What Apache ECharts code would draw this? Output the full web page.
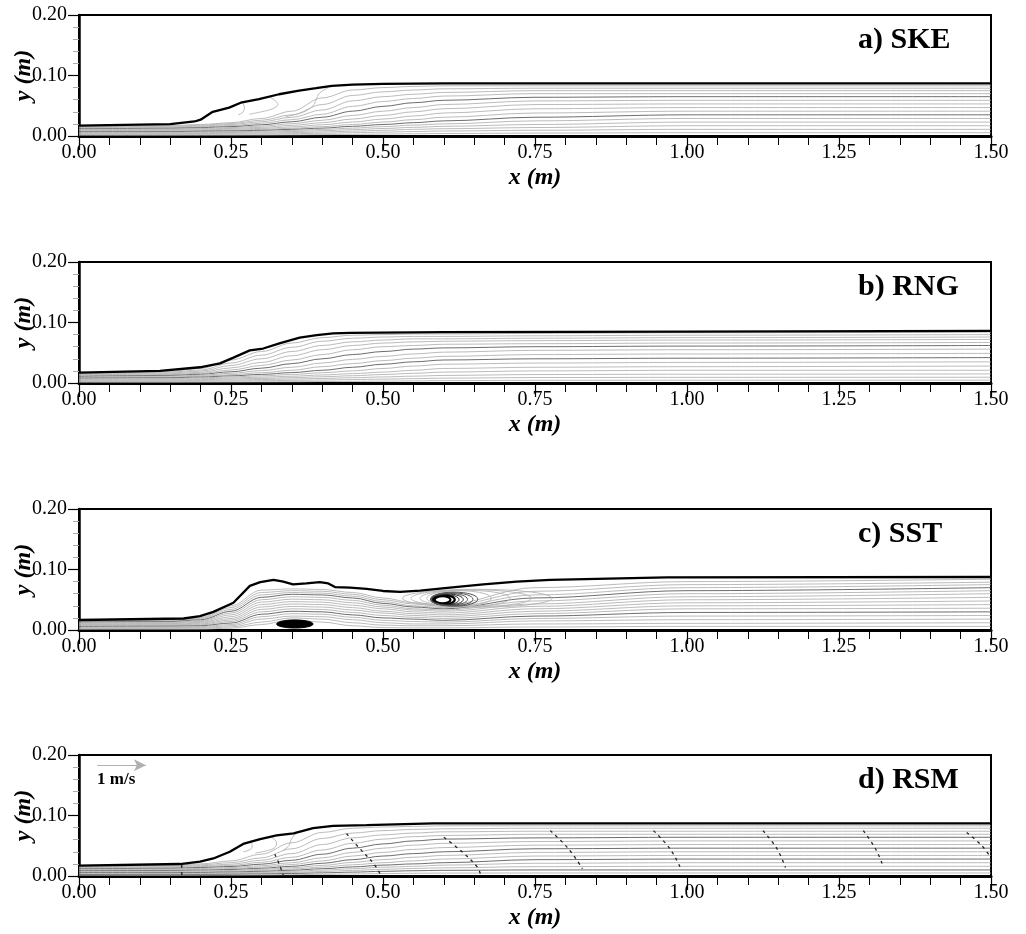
<!DOCTYPE html>
<html>
<head>
<meta charset="utf-8">
<script src="https://cdn.jsdelivr.net/npm/echarts@6/dist/echarts.min.js"></script>
<style>
  html, body { margin: 0; padding: 0; background: #fff; }
  #chart { width: 1026px; height: 934px; }
</style>
</head>
<body>
<div id="chart"></div>
<script>
// ---- Panel titles and tick labels ----
const panelTitles = ['a) SKE', 'b) RNG', 'c) SST', 'd) RSM'];
const xTicks = [0, 0.25, 0.5, 0.75, 1.0, 1.25, 1.5];
const yTicks = [0, 0.1, 0.2];

// ---- Streamline stations (x, m); each profile row gives y (m) of every streamline at one station ----
const stationX = [0, 0.15, 0.2, 0.25, 0.3, 0.35, 0.4, 0.45, 0.5, 0.55, 0.6, 0.75, 1.0, 1.5];

// ---- a) SKE ----
const skeSurfX = [0, 0.15, 0.19, 0.20, 0.22, 0.247, 0.266, 0.296, 0.329, 0.362, 0.39, 0.416, 0.45, 0.5, 0.6, 0.8, 1.0, 1.25, 1.5];
const skeSurfY = [0.017, 0.0195, 0.024, 0.027, 0.040, 0.047, 0.055, 0.061, 0.069, 0.075, 0.079, 0.083, 0.085, 0.086, 0.087, 0.087, 0.087, 0.087, 0.087];
const skeProfiles = [
  [0.0158, 0.0148, 0.0138, 0.0128, 0.0118, 0.0108, 0.0098, 0.0088, 0.0078, 0.0068, 0.0058, 0.0047, 0.0036, 0.0025, 0.0013],
  [0.0172, 0.016, 0.0149, 0.0138, 0.0127, 0.0116, 0.0105, 0.0094, 0.0083, 0.0072, 0.0061, 0.005, 0.0038, 0.0026, 0.0013],
  [0.019, 0.0177, 0.0164, 0.0151, 0.0138, 0.0126, 0.0114, 0.0102, 0.009, 0.0078, 0.0066, 0.0054, 0.0041, 0.0028, 0.0014],
  [0.022, 0.0205, 0.019, 0.0172, 0.0155, 0.0139, 0.0125, 0.0111, 0.0097, 0.0084, 0.0071, 0.0058, 0.0044, 0.003, 0.0015],
  [0.029, 0.026, 0.0235, 0.021, 0.0185, 0.0163, 0.0143, 0.0125, 0.0108, 0.0093, 0.0078, 0.0063, 0.0048, 0.0033, 0.0017],
  [0.041, 0.035, 0.031, 0.027, 0.0235, 0.0203, 0.0175, 0.015, 0.0128, 0.011, 0.0092, 0.0074, 0.0056, 0.0038, 0.002],
  [0.063, 0.052, 0.043, 0.036, 0.031, 0.026, 0.022, 0.0185, 0.0155, 0.013, 0.0108, 0.0087, 0.0066, 0.0045, 0.0023],
  [0.076, 0.067, 0.058, 0.049, 0.041, 0.034, 0.028, 0.023, 0.019, 0.016, 0.013, 0.0105, 0.008, 0.0054, 0.0027],
  [0.080, 0.073, 0.065, 0.057, 0.049, 0.041, 0.034, 0.028, 0.023, 0.019, 0.0155, 0.0124, 0.0094, 0.0064, 0.0032],
  [0.082, 0.076, 0.069, 0.062, 0.055, 0.047, 0.040, 0.033, 0.027, 0.022, 0.018, 0.0143, 0.011, 0.0074, 0.0037],
  [0.083, 0.078, 0.072, 0.066, 0.059, 0.052, 0.045, 0.038, 0.031, 0.025, 0.020, 0.016, 0.012, 0.0082, 0.0041],
  [0.083, 0.079, 0.075, 0.070, 0.064, 0.058, 0.052, 0.045, 0.038, 0.031, 0.025, 0.019, 0.014, 0.0095, 0.0048],
  [0.083, 0.079, 0.075, 0.070, 0.065, 0.059, 0.053, 0.047, 0.041, 0.035, 0.029, 0.023, 0.017, 0.011, 0.0055],
  [0.083, 0.079, 0.075, 0.070, 0.065, 0.059, 0.053, 0.047, 0.041, 0.035, 0.029, 0.023, 0.017, 0.011, 0.0055]
];
const skeDark = [4, 9];
const skeRoller = [
  [[0.268, 0.056], [0.272, 0.048], [0.270, 0.040], [0.262, 0.035]],
  [[0.312, 0.065], [0.322, 0.059], [0.327, 0.052], [0.318, 0.045], [0.300, 0.040], [0.280, 0.036]],
  [[0.410, 0.080], [0.395, 0.070], [0.390, 0.060], [0.385, 0.050], [0.370, 0.040], [0.340, 0.032]]
];

// ---- b) RNG ----
const rngSurfX = [0, 0.133, 0.199, 0.232, 0.254, 0.281, 0.303, 0.331, 0.363, 0.391, 0.418, 0.446, 0.6, 1.0, 1.5];
const rngSurfY = [0.017, 0.020, 0.026, 0.0325, 0.042, 0.054, 0.057, 0.066, 0.075, 0.079, 0.082, 0.083, 0.084, 0.085, 0.086];
const rngProfiles = [
  [0.0158, 0.0148, 0.0138, 0.0128, 0.0118, 0.0108, 0.0098, 0.0088, 0.0078, 0.0068, 0.0058, 0.0047, 0.0036, 0.0025, 0.0013],
  [0.0195, 0.0181, 0.0167, 0.0153, 0.0139, 0.0125, 0.0112, 0.0099, 0.0086, 0.0074, 0.0062, 0.005, 0.0038, 0.0026, 0.0013],
  [0.024, 0.0215, 0.0195, 0.0177, 0.016, 0.0144, 0.0128, 0.0113, 0.0098, 0.0084, 0.007, 0.0056, 0.0043, 0.0029, 0.0015],
  [0.038, 0.033, 0.029, 0.025, 0.0215, 0.0185, 0.016, 0.0138, 0.0118, 0.010, 0.0083, 0.0066, 0.005, 0.0034, 0.0017],
  [0.052, 0.046, 0.040, 0.034, 0.029, 0.0245, 0.0205, 0.017, 0.0142, 0.0118, 0.0096, 0.0076, 0.0057, 0.0038, 0.0019],
  [0.066, 0.059, 0.052, 0.045, 0.038, 0.032, 0.026, 0.021, 0.0172, 0.014, 0.0112, 0.0088, 0.0065, 0.0043, 0.0021],
  [0.075, 0.069, 0.062, 0.055, 0.047, 0.040, 0.033, 0.027, 0.021, 0.017, 0.0133, 0.0103, 0.0075, 0.0049, 0.0024],
  [0.079, 0.074, 0.068, 0.062, 0.055, 0.047, 0.039, 0.032, 0.026, 0.020, 0.0155, 0.012, 0.0087, 0.0056, 0.0027],
  [0.080, 0.076, 0.071, 0.066, 0.060, 0.052, 0.044, 0.037, 0.031, 0.024, 0.018, 0.014, 0.0100, 0.0064, 0.0031],
  [0.081, 0.077, 0.073, 0.068, 0.062, 0.056, 0.048, 0.041, 0.035, 0.028, 0.021, 0.016, 0.0113, 0.0072, 0.0035],
  [0.081, 0.077, 0.073, 0.069, 0.064, 0.058, 0.051, 0.044, 0.038, 0.031, 0.024, 0.018, 0.0125, 0.008, 0.0039],
  [0.082, 0.078, 0.074, 0.070, 0.065, 0.060, 0.054, 0.047, 0.040, 0.033, 0.026, 0.020, 0.014, 0.009, 0.0044],
  [0.083, 0.079, 0.075, 0.071, 0.066, 0.061, 0.055, 0.048, 0.041, 0.034, 0.027, 0.021, 0.0145, 0.0093, 0.0046],
  [0.084, 0.080, 0.076, 0.072, 0.067, 0.062, 0.056, 0.049, 0.042, 0.035, 0.028, 0.021, 0.015, 0.0095, 0.0047]
];
const rngDark = [5, 8];

// ---- c) SST ----
const sstSurfX = [0, 0.172, 0.199, 0.221, 0.254, 0.281, 0.298, 0.320, 0.336, 0.352, 0.374, 0.396, 0.410, 0.421, 0.446, 0.473, 0.500, 0.528, 0.561, 0.610, 0.665, 0.720, 0.775, 0.967, 1.5];
const sstSurfY = [0.0165, 0.019, 0.023, 0.030, 0.045, 0.073, 0.079, 0.083, 0.080, 0.0755, 0.077, 0.079, 0.077, 0.071, 0.070, 0.068, 0.0645, 0.063, 0.065, 0.070, 0.0755, 0.080, 0.083, 0.087, 0.0876];
const sstProfiles = [
  [0.0158, 0.0148, 0.0138, 0.0128, 0.0118, 0.0108, 0.0098, 0.0088, 0.0078, 0.0068, 0.0058, 0.0047, 0.0036, 0.0025, 0.0013],
  [0.0172, 0.016, 0.015, 0.0139, 0.0128, 0.0117, 0.0106, 0.0095, 0.0084, 0.0073, 0.0062, 0.005, 0.0038, 0.0026, 0.0014],
  [0.021, 0.0196, 0.0182, 0.0168, 0.0154, 0.014, 0.0126, 0.0112, 0.0098, 0.0084, 0.007, 0.0057, 0.0044, 0.003, 0.0016],
  [0.040, 0.037, 0.034, 0.031, 0.028, 0.025, 0.022, 0.019, 0.0165, 0.014, 0.0115, 0.009, 0.007, 0.005, 0.003],
  [0.066, 0.062, 0.058, 0.054, 0.050, 0.046, 0.042, 0.038, 0.034, 0.030, 0.026, 0.022, 0.018, 0.013, 0.009],
  [0.068, 0.065, 0.062, 0.059, 0.055, 0.051, 0.047, 0.043, 0.039, 0.035, 0.031, 0.027, 0.023, 0.020, 0.017],
  [0.067, 0.064, 0.061, 0.058, 0.054, 0.050, 0.046, 0.042, 0.038, 0.034, 0.030, 0.026, 0.022, 0.018, 0.013],
  [0.062, 0.059, 0.056, 0.053, 0.049, 0.045, 0.041, 0.037, 0.033, 0.029, 0.025, 0.021, 0.017, 0.012, 0.007],
  [0.053, 0.050, 0.047, 0.044, 0.041, 0.038, 0.035, 0.031, 0.028, 0.024, 0.020, 0.016, 0.012, 0.008, 0.004],
  [0.045, 0.043, 0.040, 0.038, 0.035, 0.033, 0.030, 0.027, 0.024, 0.021, 0.018, 0.014, 0.010, 0.007, 0.0035],
  [0.041, 0.039, 0.037, 0.035, 0.033, 0.031, 0.028, 0.025, 0.022, 0.019, 0.016, 0.013, 0.010, 0.007, 0.0035],
  [0.070, 0.064, 0.058, 0.053, 0.048, 0.043, 0.039, 0.035, 0.031, 0.027, 0.023, 0.019, 0.015, 0.010, 0.005],
  [0.080, 0.075, 0.070, 0.065, 0.060, 0.055, 0.050, 0.045, 0.040, 0.035, 0.029, 0.023, 0.017, 0.011, 0.006],
  [0.084, 0.079, 0.075, 0.070, 0.065, 0.060, 0.054, 0.048, 0.042, 0.036, 0.030, 0.024, 0.018, 0.012, 0.006]
];
const sstDark = [3, 10];
// eddies: [centre x, centre y, half-width, half-height] in metres
const sstFloorEddy = [[0.355, 0.0099, 0.030, 0.0066]];
const sstCoreRings = [
  [0.598, 0.0500, 0.013, 0.0058],
  [0.600, 0.0500, 0.018, 0.0074],
  [0.603, 0.0502, 0.022, 0.0083],
  [0.606, 0.0504, 0.026, 0.0091],
  [0.609, 0.0506, 0.030, 0.0099],
  [0.613, 0.0508, 0.035, 0.0107],
  [0.617, 0.0510, 0.039, 0.0116]
];
const sstOuterLoops = [
  [0.625, 0.0525, 0.053, 0.0124],
  [0.635, 0.0525, 0.074, 0.0132],
  [0.645, 0.0525, 0.099, 0.0140],
  [0.655, 0.0525, 0.123, 0.0148]
];

// ---- d) RSM ----
const rsmSurfX = [0, 0.166, 0.199, 0.221, 0.248, 0.27, 0.298, 0.325, 0.353, 0.385, 0.418, 0.473, 0.583, 1.0, 1.5];
const rsmSurfY = [0.017, 0.0198, 0.0237, 0.029, 0.040, 0.053, 0.061, 0.067, 0.0705, 0.079, 0.083, 0.084, 0.087, 0.087, 0.087];
const rsmProfiles = [
  [0.0158, 0.0148, 0.0138, 0.0128, 0.0118, 0.0108, 0.0098, 0.0088, 0.0078, 0.0068, 0.0058, 0.0047, 0.0036, 0.0025, 0.0013],
  [0.0175, 0.0163, 0.0151, 0.0139, 0.0127, 0.0115, 0.0103, 0.0091, 0.0079, 0.0067, 0.0055, 0.0044, 0.0033, 0.0022, 0.0012],
  [0.020, 0.0185, 0.017, 0.0155, 0.014, 0.0125, 0.011, 0.0096, 0.0083, 0.007, 0.0058, 0.0046, 0.0035, 0.0024, 0.0013],
  [0.025, 0.022, 0.0195, 0.0175, 0.0157, 0.014, 0.0123, 0.0107, 0.0092, 0.0078, 0.0065, 0.0052, 0.004, 0.0028, 0.0015],
  [0.036, 0.030, 0.026, 0.0225, 0.0195, 0.017, 0.0148, 0.0128, 0.011, 0.0093, 0.0077, 0.0062, 0.0048, 0.0034, 0.0018],
  [0.055, 0.045, 0.037, 0.031, 0.026, 0.022, 0.019, 0.016, 0.0137, 0.0115, 0.0095, 0.0077, 0.006, 0.0042, 0.0022],
  [0.072, 0.062, 0.052, 0.043, 0.036, 0.030, 0.025, 0.021, 0.0175, 0.0147, 0.012, 0.0097, 0.0075, 0.0052, 0.0027],
  [0.079, 0.071, 0.063, 0.054, 0.046, 0.039, 0.033, 0.027, 0.0225, 0.0185, 0.015, 0.012, 0.0092, 0.0064, 0.0033],
  [0.081, 0.075, 0.068, 0.061, 0.053, 0.046, 0.039, 0.033, 0.027, 0.022, 0.018, 0.0145, 0.011, 0.0077, 0.004],
  [0.082, 0.077, 0.071, 0.065, 0.058, 0.051, 0.044, 0.037, 0.031, 0.025, 0.020, 0.016, 0.0125, 0.0087, 0.0045],
  [0.083, 0.078, 0.073, 0.067, 0.061, 0.054, 0.047, 0.040, 0.034, 0.028, 0.022, 0.018, 0.0135, 0.0094, 0.0048],
  [0.083, 0.079, 0.074, 0.069, 0.063, 0.057, 0.051, 0.045, 0.039, 0.033, 0.027, 0.021, 0.0155, 0.010, 0.005],
  [0.083, 0.079, 0.074, 0.069, 0.064, 0.058, 0.052, 0.046, 0.040, 0.034, 0.028, 0.022, 0.016, 0.010, 0.005],
  [0.083, 0.079, 0.074, 0.069, 0.064, 0.058, 0.052, 0.046, 0.040, 0.034, 0.028, 0.022, 0.016, 0.010, 0.005]
];
const rsmDark = [4, 7, 10, 13];
const rsmRoller = [
  [[0.318, 0.063], [0.325, 0.055], [0.322, 0.047], [0.310, 0.042], [0.290, 0.038]],
  [[0.280, 0.057], [0.285, 0.050], [0.282, 0.044], [0.270, 0.040]],
  [[0.360, 0.074], [0.350, 0.062], [0.345, 0.050], [0.335, 0.042]]
];
// rows of velocity vectors along the streamlines
const rsmVectorRows = [
  [[0.169, 0.018], [0.169, 0.009], [0.169, 0.001]],
  [[0.322, 0.036], [0.330, 0.018], [0.336, 0.001]],
  [[0.440, 0.070], [0.462, 0.045], [0.485, 0.020], [0.495, 0.004]],
  [[0.600, 0.064], [0.630, 0.040], [0.655, 0.015], [0.660, 0.004]],
  [[0.775, 0.075], [0.805, 0.045], [0.828, 0.012]],
  [[0.945, 0.075], [0.972, 0.045], [0.990, 0.012]],
  [[1.125, 0.075], [1.148, 0.045], [1.162, 0.014]],
  [[1.290, 0.075], [1.310, 0.045], [1.322, 0.018]],
  [[1.460, 0.072], [1.485, 0.050], [1.500, 0.030]]
];
// reference vector: 1 m/s
const refVectorStart = [0.030, 0.183];
const refVectorEnd = [0.110, 0.183];

// ---- layout ----
const PANEL_TOPS = [15, 262, 509, 755];
const PLOT_H = 121;
const PLOT_LEFT = 79;
const PLOT_RIGHT = 35;
const SERIF = '"Liberation Serif", "Times New Roman", serif';

const LIGHT = '#b3b3b3';
const DARK = '#5c5c5c';

function surfaceSeries(gi, xs, ys, extra) {
  return Object.assign({
    type: 'line', xAxisIndex: gi, yAxisIndex: gi,
    data: xs.map((x, i) => [x, ys[i]]),
    symbol: 'none', smooth: false, silent: true,
    lineStyle: { color: '#000', width: 2.3 }, z: 10
  }, extra || {});
}

function streamSeries(gi, profiles, darkIdx) {
  const n = profiles[0].length;
  const out = [];
  for (let i = 0; i < n; i++) {
    out.push({
      type: 'line', xAxisIndex: gi, yAxisIndex: gi,
      data: stationX.map((x, j) => [x, profiles[j][i]]),
      symbol: 'none', smooth: 0.35, smoothMonotone: 'x', silent: true,
      lineStyle: { color: darkIdx.includes(i) ? DARK : LIGHT, width: 0.9 }, z: 3
    });
  }
  return out;
}

function pathSeries(gi, paths, style) {
  return paths.map(p => ({
    type: 'line', xAxisIndex: gi, yAxisIndex: gi,
    data: p, symbol: 'none', smooth: 0.4, silent: true,
    lineStyle: style, z: 4
  }));
}

function ellipseSeries(gi, items, styleFn, z) {
  return {
    type: 'custom', xAxisIndex: gi, yAxisIndex: gi, silent: true, z: z,
    data: items,
    renderItem: (params, api) => {
      const c = api.coord([api.value(0), api.value(1)]);
      const s = api.size([api.value(2), api.value(3)]);
      return {
        type: 'ellipse',
        shape: { cx: c[0], cy: c[1], rx: s[0], ry: s[1] },
        style: styleFn(params.dataIndex)
      };
    }
  };
}

const nameStyle = { fontFamily: SERIF, fontWeight: 'bold', fontStyle: 'italic', fontSize: 24, color: '#000' };
const labelStyle = { fontFamily: SERIF, fontSize: 20, color: '#000' };

const grids = [], xAxes = [], yAxes = [], graphics = [];
PANEL_TOPS.forEach((top, i) => {
  grids.push({
    left: PLOT_LEFT, right: PLOT_RIGHT, top: top, height: PLOT_H,
    outerBoundsMode: 'none', containLabel: false,
    show: true, borderColor: '#000', borderWidth: 2, backgroundColor: 'transparent'
  });
  xAxes.push({
    gridIndex: i, type: 'value', min: xTicks[0], max: xTicks[xTicks.length - 1], interval: 0.25,
    axisLine: { show: true, onZero: false, lineStyle: { color: '#000', width: 3 } },
    axisTick: { show: true, length: 14, lineStyle: { color: '#000', width: 1.2 } },
    minorTick: { show: true, splitNumber: 5, length: 9, lineStyle: { color: '#000', width: 1 } },
    splitLine: { show: false },
    axisLabel: Object.assign({ formatter: v => v.toFixed(2), margin: 7, showMinLabel: true, showMaxLabel: true }, labelStyle),
    name: 'x (m)', nameLocation: 'middle', nameGap: 30, nameMoveOverlap: false, nameTextStyle: nameStyle
  });
  yAxes.push({
    gridIndex: i, type: 'value', min: yTicks[0], max: yTicks[yTicks.length - 1], interval: 0.1,
    axisLine: { show: true, onZero: false, lineStyle: { color: '#000', width: 2.5 } },
    axisTick: { show: true, length: 11, lineStyle: { color: '#000', width: 1.2 } },
    minorTick: { show: true, splitNumber: 5, length: 6, lineStyle: { color: '#aaa', width: 1 } },
    splitLine: { show: false },
    axisLabel: Object.assign({ formatter: v => v.toFixed(2), margin: 12 }, labelStyle),
    name: 'y (m)', nameLocation: 'middle', nameGap: 43, nameMoveOverlap: false, nameTextStyle: nameStyle
  });
  graphics.push({
    type: 'text', x: 858, y: top + 25, silent: true,
    style: { text: panelTitles[i], font: 'bold 30px ' + SERIF, fill: '#000', verticalAlign: 'middle', align: 'left' }
  });
});
graphics.push({
  type: 'text', x: 97, y: 780, silent: true,
  style: { text: '1 m/s', font: 'bold 17px ' + SERIF, fill: '#000', verticalAlign: 'middle', align: 'left' }
});

const series = [];
// a) SKE
series.push(...streamSeries(0, skeProfiles, skeDark));
series.push(...pathSeries(0, skeRoller, { color: LIGHT, width: 0.9 }));
series.push(surfaceSeries(0, skeSurfX, skeSurfY));
// b) RNG
series.push(...streamSeries(1, rngProfiles, rngDark));
series.push(surfaceSeries(1, rngSurfX, rngSurfY));
// c) SST
series.push(...streamSeries(2, sstProfiles, sstDark));
series.push(ellipseSeries(2, sstOuterLoops, () => ({ fill: 'none', stroke: LIGHT, lineWidth: 0.9 }), 4));
series.push(ellipseSeries(2, sstCoreRings, (k) => ({
  fill: k === 0 ? '#fff' : 'none',
  stroke: k < 2 ? '#000' : (k < 4 ? '#222' : '#555'),
  lineWidth: k < 2 ? 2.2 : 1
}), 6));
series.push(ellipseSeries(2, sstFloorEddy, () => ({ fill: '#000', stroke: '#000', lineWidth: 1 }), 6));
series.push(surfaceSeries(2, sstSurfX, sstSurfY));
// d) RSM
series.push(...streamSeries(3, rsmProfiles, rsmDark));
series.push(...pathSeries(3, rsmRoller, { color: LIGHT, width: 0.9 }));
series.push(...pathSeries(3, rsmVectorRows, { color: '#222', width: 1.3, type: [3, 4] }));
series.push(surfaceSeries(3, rsmSurfX, rsmSurfY, {
  markLine: {
    silent: true, symbol: ['none', 'arrow'], symbolSize: [9, 12], animation: false,
    label: { show: false },
    lineStyle: { color: '#b0b0b0', width: 1, type: 'solid' },
    data: [[{ coord: refVectorStart }, { coord: refVectorEnd }]]
  }
}));

const chart = echarts.init(document.getElementById('chart'), null, { renderer: 'canvas' });
chart.setOption({
  animation: false,
  backgroundColor: '#fff',
  grid: grids,
  xAxis: xAxes,
  yAxis: yAxes,
  graphic: graphics,
  series: series
});
</script>
</body>
</html>
